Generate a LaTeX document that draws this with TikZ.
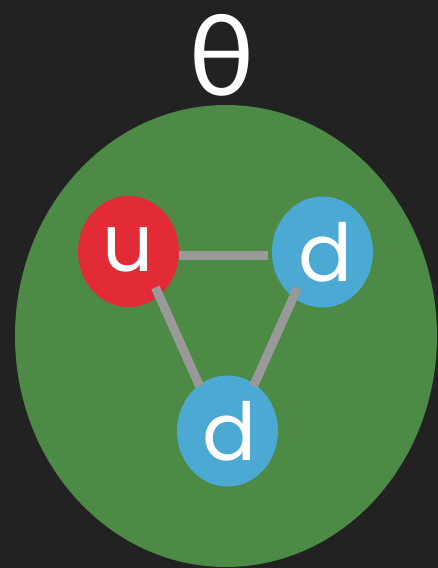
\documentclass[tikz,border=0pt]{standalone}
\usepackage{fontspec}
\setmainfont{Poppins}
\newfontfamily\thetafont{Lato}
\usetikzlibrary{shapes.geometric}
\definecolor{bgc}{HTML}{222222}
\definecolor{grn}{HTML}{4C8A45}
\definecolor{qred}{HTML}{E32B38}
\definecolor{qblue}{HTML}{4BA9D4}
\definecolor{bond}{HTML}{999999}
\tikzset{
  quark/.style={ellipse, minimum width=101pt, minimum height=111pt, inner sep=0pt,
    text=white, font=\fontsize{80}{80}\selectfont},
  bondline/.style={draw=bond, line width=9pt, line cap=butt}
}
\begin{document}
\begin{tikzpicture}[x=1pt,y=1pt]
\fill[bgc] (0,0) rectangle (438,568);
\useasboundingbox (0,0) rectangle (438,568);
\node[ellipse, fill=grn, minimum width=422pt, minimum height=462pt, inner sep=0pt] (hadron) at (226,232) {};
\node[text=white, font=\thetafont\fontsize{112}{112}\selectfont] (theta) at (222,513) {θ};
\node[quark, fill=qred] (u) at (128.5,316.5) {\raisebox{3pt}{u}};
\node[quark, fill=qblue] (dr) at (322.5,316) {\hspace{6pt}d};
\node[quark, fill=qblue] (db) at (227.5,137) {\hspace{4pt}d};
\draw[bondline] ([shift={(50.5,-4.5)}]u.center) -- ([shift={(-54.5,-4)}]dr.center);
\draw[bondline] ([shift={(27,-36)}]u.center) -- ([shift={(-28,45)}]db.center);
\draw[bondline] ([shift={(-25,-36)}]dr.center) -- ([shift={(26,45)}]db.center);
\end{tikzpicture}
\end{document}
